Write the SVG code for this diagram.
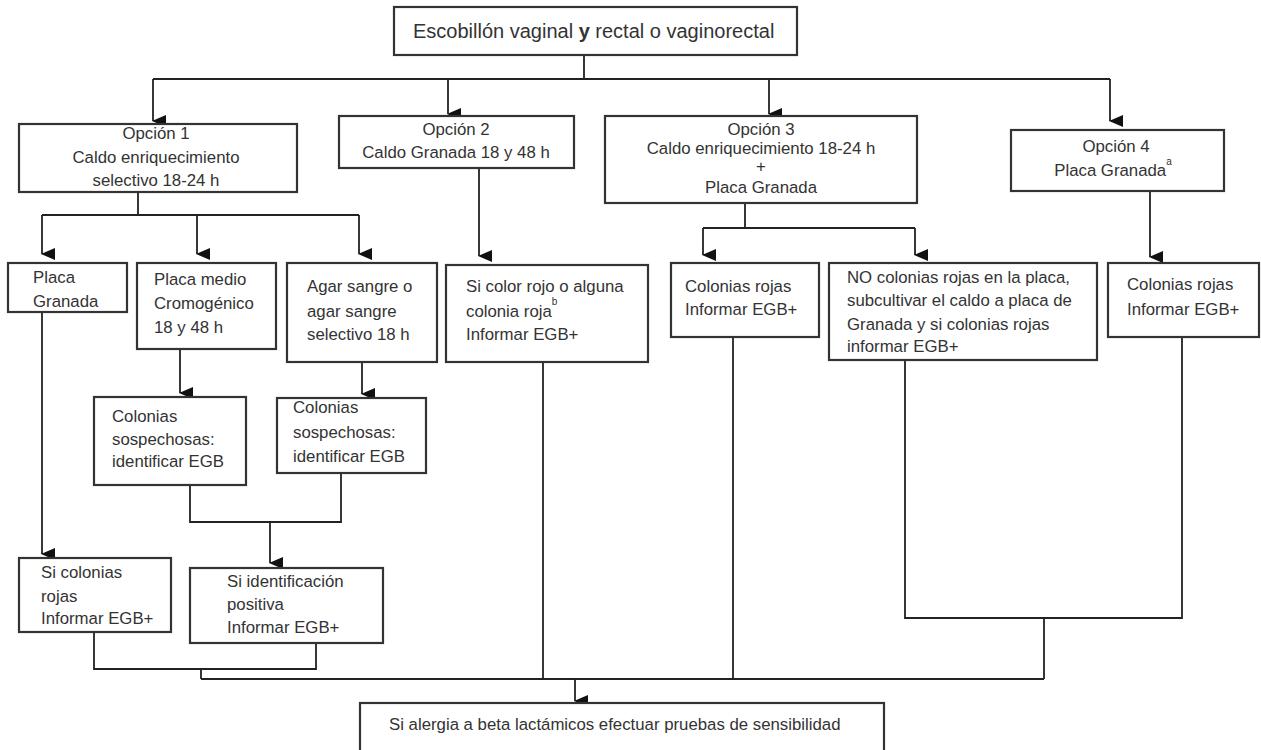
<svg xmlns="http://www.w3.org/2000/svg" width="1261" height="750" viewBox="0 0 1261 750">
<defs>
<marker id="ah" markerUnits="userSpaceOnUse" markerWidth="12" markerHeight="14" refX="6" refY="13" orient="auto-start-reverse" viewBox="0 0 12 14">
<path d="M0,0 L12,0 L6,14 Z" fill="#111"/>
</marker>
<style>
.box{fill:#fff;stroke:#333;stroke-width:2.2}
.t{font-family:"Liberation Sans",Arial,Helvetica,sans-serif;font-size:16.8px;fill:#333}
.c{text-anchor:middle}
.big{font-size:20px}
.sup{font-size:10px}
.ln{fill:none;stroke:#222;stroke-width:1.8}
.ar{fill:none;stroke:#222;stroke-width:1.8;marker-end:url(#ah)}
</style>
</defs>
<rect width="1261" height="750" fill="#fff"/>

<g id="connectors">
<path class="ln" d="M584,55 V79 M153,79 H1110"/>
<path class="ar" d="M153,79 V121"/>
<path class="ar" d="M448,79 V114"/>
<path class="ar" d="M769,79 V114"/>
<path class="ar" d="M1110,79 V121"/>
<path class="ln" d="M138,192 V215 M42,215 H359"/>
<path class="ar" d="M42,215 V254"/>
<path class="ar" d="M197,215 V254"/>
<path class="ar" d="M359,215 V254"/>
<path class="ar" d="M180,349 V393"/>
<path class="ar" d="M362,362 V394"/>
<path class="ln" d="M190,485 V522 H341 V473"/>
<path class="ar" d="M270,522 V563"/>
<path class="ar" d="M42,312 V554"/>
<path class="ln" d="M94,632 V669 H316 V643 M201,669 V679"/>
<path class="ar" d="M479,168 V256"/>
<path class="ln" d="M543,362 V679"/>
<path class="ln" d="M745,203 V228 M703,228 H915"/>
<path class="ar" d="M703,228 V255"/>
<path class="ar" d="M915,228 V255"/>
<path class="ln" d="M733,337 V679"/>
<path class="ar" d="M1150,191 V257"/>
<path class="ln" d="M905,360 V618 H1182 V337 M1044,618 V679"/>
<path class="ln" d="M201,679 H1044"/>
<path class="ar" d="M575,679 V701"/>
</g>

<g id="n-top">
<rect class="box" x="394" y="7" width="403" height="48"/>
<text class="t big" x="413" y="38">Escobillón vaginal <tspan font-weight="bold">y</tspan> rectal o vaginorectal</text>
</g>

<g id="n-op1">
<rect class="box" x="19" y="124" width="278" height="68"/>
<text class="t c" x="156" y="139">Opción 1</text>
<text class="t c" x="156" y="163">Caldo enriquecimiento</text>
<text class="t c" x="156" y="186">selectivo 18-24 h</text>
</g>

<g id="n-op2">
<rect class="box" x="339" y="116" width="235" height="52"/>
<text class="t c" x="456" y="135">Opción 2</text>
<text class="t c" x="456" y="158">Caldo Granada 18 y 48 h</text>
</g>

<g id="n-op3">
<rect class="box" x="605" y="116" width="312" height="87"/>
<text class="t c" x="761" y="135">Opción 3</text>
<text class="t c" x="761" y="154">Caldo enriquecimiento 18-24 h</text>
<text class="t c" x="761" y="172" font-size="12">+</text>
<text class="t c" x="761" y="193">Placa Granada</text>
</g>

<g id="n-op4">
<rect class="box" x="1011" y="130" width="213" height="61"/>
<text class="t c" x="1116" y="152">Opción 4</text>
<text class="t c" x="1113" y="176">Placa Granada<tspan class="sup" dy="-11">a</tspan></text>
</g>

<g id="n-placa-granada">
<rect class="box" x="8" y="263" width="119" height="49"/>
<text class="t" x="33" y="283">Placa</text>
<text class="t" x="33" y="307">Granada</text>
</g>

<g id="n-cromogenico">
<rect class="box" x="137" y="263" width="139" height="86"/>
<text class="t" x="154" y="285">Placa medio</text>
<text class="t" x="154" y="309">Cromogénico</text>
<text class="t" x="154" y="333">18 y 48 h</text>
</g>

<g id="n-agar">
<rect class="box" x="287" y="263" width="150" height="99"/>
<text class="t" x="307" y="292">Agar sangre o</text>
<text class="t" x="307" y="317">agar sangre</text>
<text class="t" x="307" y="340">selectivo 18 h</text>
</g>

<g id="n-sosp1">
<rect class="box" x="94" y="397" width="152" height="88"/>
<text class="t" x="112" y="422">Colonias</text>
<text class="t" x="112" y="445">sospechosas:</text>
<text class="t" x="112" y="467">identificar EGB</text>
</g>

<g id="n-sosp2">
<rect class="box" x="277" y="398" width="149" height="75"/>
<text class="t" x="293" y="413">Colonias</text>
<text class="t" x="293" y="438">sospechosas:</text>
<text class="t" x="293" y="462">identificar EGB</text>
</g>

<g id="n-si-colonias">
<rect class="box" x="19" y="558" width="152" height="74"/>
<text class="t" x="41" y="578">Si colonias</text>
<text class="t" x="41" y="602">rojas</text>
<text class="t" x="41" y="624">Informar EGB+</text>
</g>

<g id="n-si-ident">
<rect class="box" x="190" y="568" width="193" height="75"/>
<text class="t" x="227" y="587">Si identificación</text>
<text class="t" x="227" y="610">positiva</text>
<text class="t" x="227" y="633">Informar EGB+</text>
</g>

<g id="n-si-color">
<rect class="box" x="446" y="265" width="202" height="97"/>
<text class="t" x="466" y="292">Si color rojo o alguna</text>
<text class="t" x="466" y="317">colonia roja<tspan class="sup" dy="-12">b</tspan></text>
<text class="t" x="466" y="340">Informar EGB+</text>
</g>

<g id="n-col-rojas-3">
<rect class="box" x="671" y="263" width="148" height="74"/>
<text class="t" x="685" y="292">Colonias rojas</text>
<text class="t" x="685" y="315">Informar EGB+</text>
</g>

<g id="n-no-colonias">
<rect class="box" x="829" y="263" width="268" height="97"/>
<text class="t" x="847" y="283">NO colonias rojas en la placa,</text>
<text class="t" x="847" y="306">subcultivar el caldo a placa de</text>
<text class="t" x="847" y="330">Granada y si colonias rojas</text>
<text class="t" x="847" y="352">informar EGB+</text>
</g>

<g id="n-col-rojas-4">
<rect class="box" x="1108" y="263" width="151" height="74"/>
<text class="t" x="1127" y="290">Colonias rojas</text>
<text class="t" x="1127" y="315">Informar EGB+</text>
</g>

<g id="n-final">
<rect class="box" x="360" y="703" width="524" height="60"/>
<text class="t" x="389" y="730" font-size="17.4">Si alergia a beta lactámicos efectuar pruebas de sensibilidad</text>
</g>
</svg>
